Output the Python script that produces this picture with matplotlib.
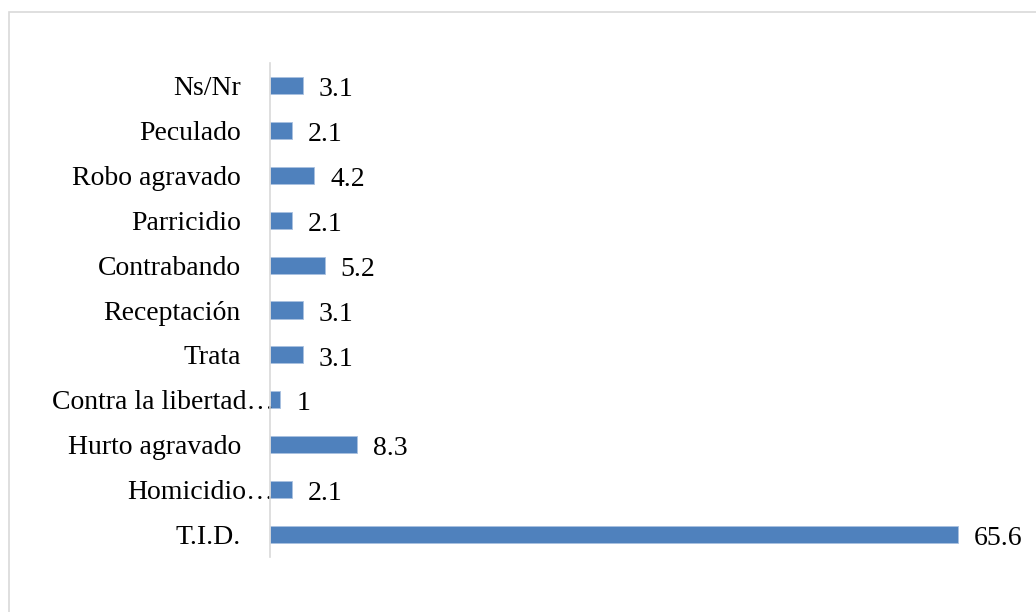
import matplotlib.pyplot as plt
import matplotlib.transforms as mtransforms
from matplotlib.patches import Rectangle

plt.rcParams["font.family"] = ["Liberation Serif", "DejaVu Serif"]

# data, bottom to top as in the chart
categories = ["T.I.D.", "Homicidio…", "Hurto agravado", "Contra la libertad…", "Trata",
              "Receptación", "Contrabando", "Parricidio", "Robo agravado", "Peculado", "Ns/Nr"]
values = [65.6, 2.1, 8.3, 1, 3.1, 3.1, 5.2, 2.1, 4.2, 2.1, 3.1]
truncated = ["Homicidio…", "Contra la libertad…"]

W, H = 1036, 612
fig = plt.figure(figsize=(W / 100, H / 100), dpi=100)

# light grey chart border (Excel chart area), cut off at right and bottom
fig.patches.append(Rectangle((9 / W, -0.1), 1.5, 1.1 - 12 / H, transform=fig.transFigure,
                             fill=False, edgecolor="#D9D9D9", linewidth=1.2))

ax = fig.add_axes([270 / W, 1 - 557 / H, 720 / W, 494 / H])
ypos = range(len(categories))
ax.barh(ypos, values, height=0.38, color="#4F81BD", edgecolor="#A9C1E0", linewidth=0.6)

ax.set_xlim(0, 720 / 10.49)
ax.set_ylim(-0.5, len(categories) - 0.5)
ax.set_xticks([])
ax.set_yticks(list(ypos))
ax.set_yticklabels(categories, fontsize=20)
ax.tick_params(axis="y", length=0, pad=21)

for lbl in ax.get_yticklabels():
    if lbl.get_text() in truncated:
        off = mtransforms.ScaledTranslation(33 / 100, 0, fig.dpi_scale_trans)
        lbl.set_transform(lbl.get_transform() + off)

for s in ["top", "right", "bottom"]:
    ax.spines[s].set_visible(False)
ax.spines["left"].set_color("#D9D9D9")
ax.spines["left"].set_linewidth(1.2)

for y, v in zip(ypos, values):
    ax.annotate(f"{v:g}", (v, y), xytext=(11.5, -3), textcoords="offset points",
                ha="left", va="center", fontsize=20, annotation_clip=False)

fig.savefig("out.png", dpi=100)
